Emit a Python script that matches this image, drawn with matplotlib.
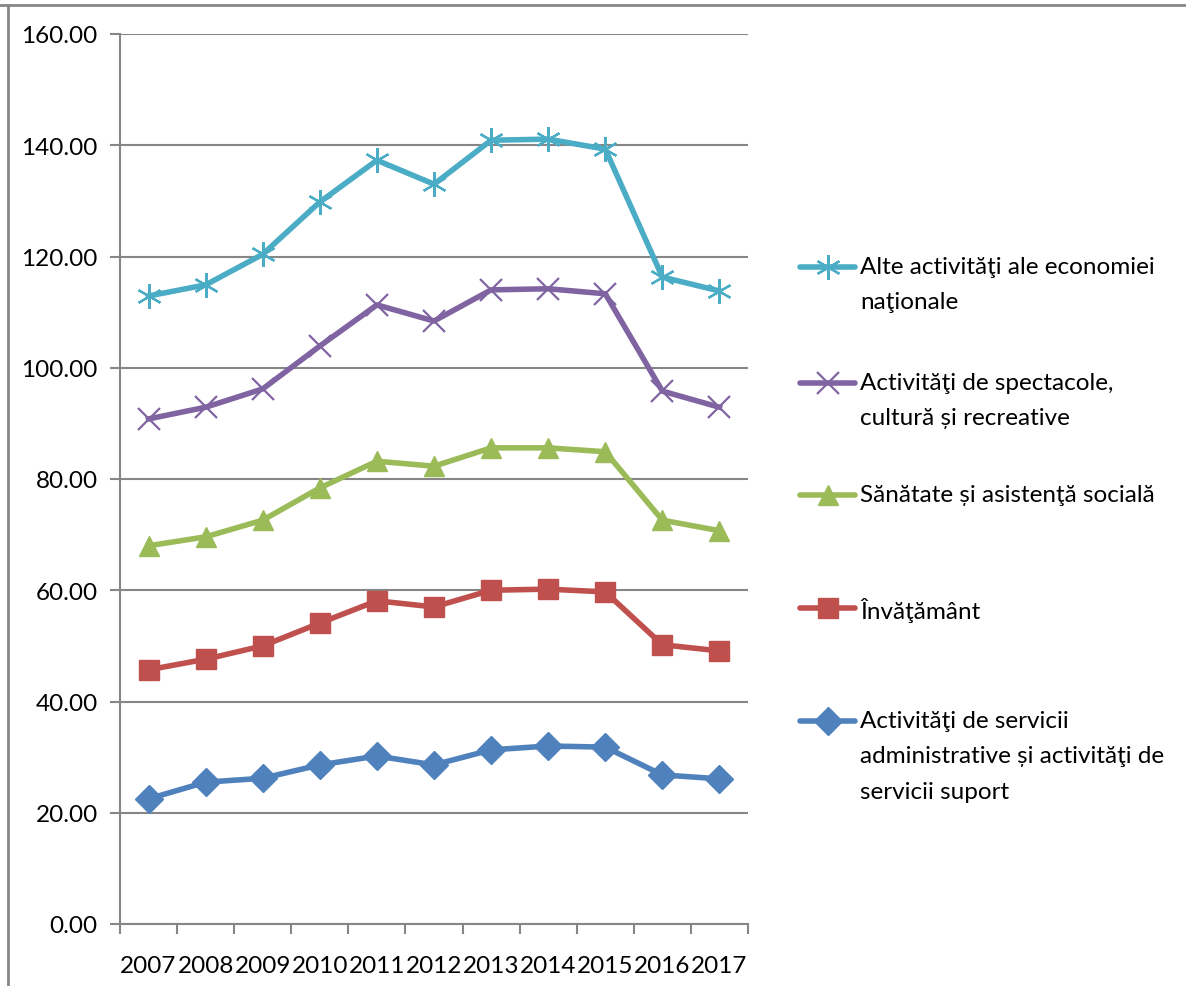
import matplotlib.pyplot as plt
from matplotlib.lines import Line2D

plt.rcParams['font.family'] = ['Lato', 'DejaVu Sans']

years = ['2007', '2008', '2009', '2010', '2011', '2012', '2013', '2014', '2015', '2016', '2017']

servicii_admin = [22.5, 25.5, 26.2, 28.6, 30.2, 28.6, 31.3, 32.0, 31.8, 26.8, 26.1]
invatamant = [45.7, 47.6, 50.0, 54.1, 58.1, 57.0, 60.0, 60.2, 59.7, 50.2, 49.1]
sanatate = [68.0, 69.6, 72.6, 78.4, 83.2, 82.3, 85.6, 85.6, 84.9, 72.6, 70.7]
spectacole = [90.8, 92.9, 96.2, 103.9, 111.3, 108.4, 114.0, 114.2, 113.3, 95.8, 92.9]
alte = [112.9, 114.9, 120.4, 129.8, 137.3, 133.0, 140.9, 141.1, 139.3, 116.3, 113.8]

labels = [
    'Activităţi de servicii\nadministrative și activităţi de\nservicii suport',
    'Învăţământ',
    'Sănătate și asistenţă socială',
    'Activităţi de spectacole,\ncultură și recreative',
    'Alte activităţi ale economiei\nnaţionale',
]
series = [servicii_admin, invatamant, sanatate, spectacole, alte]
colors = ['#4F81BD', '#C0504D', '#9BBB59', '#8064A2', '#4BACC6']
markers = ['D', 's', '^', 'x', (6, 2, 0)]
msizes = [14, 14, 15, 16, 18]
FS = 17.5

fig = plt.figure(figsize=(11.86, 9.87), dpi=100)
ax = fig.add_axes([120 / 1186, 1 - 925 / 987, 628 / 1186, 890 / 987])

x = range(len(years))
for vals, c, m, ms in zip(series, colors, markers, msizes):
    mew = 1.6 if m == 'x' or isinstance(m, tuple) else 1
    ax.plot(x, vals, color=c, lw=4, marker=m, ms=ms, mec=c, mfc=c, mew=mew,
            solid_joinstyle='round', zorder=3)

ax.set_xlim(-0.5, len(years) - 0.5)
ax.set_ylim(0, 160)
ax.set_yticks(range(0, 161, 20))
ax.set_yticklabels([f'{v:.2f}' for v in range(0, 161, 20)], fontsize=FS)
ax.set_xticks(list(x))
ax.set_xticklabels(years, fontsize=FS)
ax.set_xticks([i - 0.5 for i in range(len(years) + 1)], minor=True)
ax.tick_params(axis='x', which='major', length=0, pad=22)
ax.tick_params(axis='x', which='minor', length=7, color='#868686', width=1.5)
ax.tick_params(axis='y', length=7, color='#868686', width=1.5, pad=9)
ax.grid(axis='y', color='#868686', lw=1.5, zorder=0)
for s in ['top', 'right']:
    ax.spines[s].set_visible(False)
for s in ['left', 'bottom']:
    ax.spines[s].set_color('#868686')
    ax.spines[s].set_linewidth(1.5)

# legend drawn on the right, top entry first
leg_y = [268, 384, 496, 609, 722]
order = [4, 3, 2, 1, 0]
for yy, i in zip(leg_y, order):
    yf = 1 - yy / 987
    fig.add_artist(Line2D([800 / 1186, 855 / 1186], [yf, yf], color=colors[i], lw=4,
                          solid_capstyle='round'))
    fig.add_artist(Line2D([828 / 1186], [yf], color=colors[i], marker=markers[i],
                          ms=msizes[i], mec=colors[i], mfc=colors[i],
                          mew=1.6 if i >= 3 else 1))
    fig.text(860 / 1186, 1 - (yy - 11) / 987, labels[i], fontsize=FS, va='top', ha='left',
             linespacing=1.85)

# chart frame
fig.add_artist(Line2D([0, 1], [1 - 6 / 987, 1 - 6 / 987], color='#868686', lw=2))
fig.add_artist(Line2D([8 / 1186, 8 / 1186], [0, 1 - 6 / 987], color='#868686', lw=2))

fig.savefig('out.png', dpi=100)
